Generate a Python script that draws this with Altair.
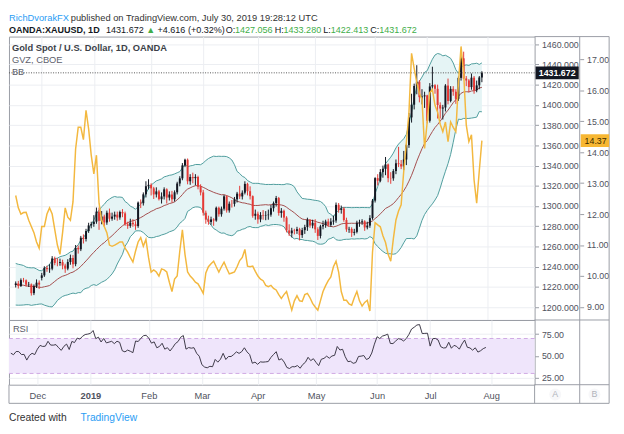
import altair as alt
import pandas as pd
import numpy as np

# ---------------- data ----------------
# closes before the visible window, only used to seed the Bollinger Bands / RSI
warm_close = [1207.0, 1199.0, 1200.5, 1201.5, 1194.5, 1183.5, 1192.0, 1189.0, 1204.5, 1199.0,
              1199.5, 1203.0, 1188.0, 1189.5, 1194.0, 1225.0, 1217.5, 1230.5, 1225.5, 1222.0,
              1227.0, 1227.0, 1222.5, 1231.0, 1231.0, 1232.0, 1235.0, 1228.0, 1223.0, 1215.0,
              1233.0, 1233.0, 1233.0, 1227.0, 1227.0, 1224.0, 1209.0, 1201.5, 1202.0, 1210.0,
              1214.5, 1222.0]

opens = [1222.0, 1223.5, 1221.0, 1226.8, 1226.6, 1222.3, 1222.6, 1213.9, 1220.8, 1224.3,
         1229.0, 1231.5, 1238.9, 1237.6, 1238.1, 1248.2, 1243.7, 1243.6, 1244.6, 1241.2,
         1238.2, 1244.7, 1248.7, 1242.6, 1258.7, 1257.3, 1268.7, 1267.5, 1275.3, 1280.9,
         1282.3, 1284.6, 1294.5, 1285.4, 1289.7, 1283.8, 1293.4, 1287.5, 1289.6, 1291.5,
         1288.7, 1294.1, 1292.8, 1282.0, 1280.4, 1283.5, 1282.0, 1280.2, 1303.4, 1302.8,
         1311.6, 1319.6, 1321.0, 1317.5, 1311.5, 1314.5, 1306.8, 1309.5, 1316.5, 1308.4,
         1311.4, 1306.7, 1313.6, 1322.3, 1327.4, 1340.2, 1345.8, 1324.5, 1328.7, 1327.6,
         1328.8, 1319.1, 1313.5, 1293.4, 1286.6, 1284.3, 1286.8, 1285.7, 1298.3, 1291.9,
         1297.4, 1309.6, 1295.7, 1302.3, 1302.2, 1306.6, 1312.3, 1309.5, 1313.2, 1321.9,
         1314.7, 1309.8, 1290.3, 1292.4, 1286.8, 1291.2, 1290.6, 1291.0, 1291.5, 1297.9,
         1302.9, 1307.9, 1293.1, 1295.3, 1288.6, 1275.9, 1273.1, 1275.8, 1275.4, 1277.1,
         1271.3, 1276.2, 1279.2, 1286.5, 1280.7, 1283.5, 1277.0, 1270.5, 1279.9, 1281.2,
         1284.7, 1281.4, 1284.7, 1285.7, 1301.2, 1296.2, 1297.6, 1286.2, 1276.9, 1277.4,
         1273.5, 1274.5, 1283.5, 1284.0, 1284.9, 1278.9, 1280.7, 1288.1, 1305.4, 1327.6,
         1325.0, 1333.6, 1336.8, 1341.1, 1327.6, 1327.4, 1334.6, 1342.3, 1341.4, 1339.1,
         1346.0, 1360.2, 1387.6, 1400.2, 1418.7, 1422.9, 1407.6, 1408.4, 1409.4, 1384.3,
         1418.2, 1419.5, 1415.9, 1399.8, 1396.4, 1397.4, 1419.1, 1403.9, 1415.8, 1413.0,
         1406.0, 1426.7, 1446.0, 1426.1, 1424.1, 1417.6, 1426.9, 1414.4, 1419.3, 1427.056]

highs = [1225.5, 1226.0, 1228.5, 1229.0, 1227.5, 1225.0, 1223.5, 1222.5, 1227.5, 1226.5,
         1234.0, 1240.5, 1241.0, 1242.5, 1250.5, 1250.0, 1248.5, 1248.0, 1247.0, 1243.0,
         1247.5, 1252.0, 1251.5, 1261.5, 1261.0, 1270.5, 1272.0, 1277.5, 1283.5, 1284.5,
         1291.0, 1298.5, 1298.5, 1295.0, 1291.5, 1295.5, 1297.5, 1293.5, 1294.5, 1294.5,
         1295.5, 1297.0, 1294.5, 1284.5, 1287.5, 1287.0, 1285.0, 1304.5, 1306.5, 1313.5,
         1324.5, 1326.5, 1322.5, 1319.0, 1318.5, 1316.0, 1313.5, 1318.5, 1317.5, 1314.5,
         1315.0, 1315.5, 1324.0, 1329.5, 1342.5, 1346.8, 1347.0, 1331.5, 1333.0, 1331.5,
         1330.0, 1321.5, 1316.0, 1295.5, 1290.5, 1289.5, 1288.0, 1299.5, 1299.5, 1299.5,
         1311.0, 1310.5, 1304.5, 1306.0, 1309.0, 1314.0, 1320.0, 1315.5, 1324.5, 1323.0,
         1319.5, 1310.5, 1296.5, 1294.5, 1294.0, 1296.0, 1295.0, 1296.5, 1301.0, 1304.5,
         1310.0, 1309.0, 1298.0, 1296.5, 1290.0, 1282.0, 1278.5, 1277.5, 1279.5, 1278.5,
         1278.5, 1281.5, 1288.5, 1287.0, 1286.5, 1287.0, 1279.0, 1281.5, 1285.5, 1286.5,
         1287.5, 1288.0, 1290.5, 1303.5, 1303.0, 1300.5, 1299.0, 1288.5, 1279.5, 1279.0,
         1277.5, 1285.5, 1286.5, 1287.0, 1286.0, 1284.5, 1291.0, 1307.0, 1328.5, 1331.5,
         1336.5, 1340.0, 1348.5, 1342.0, 1333.5, 1336.5, 1346.0, 1358.5, 1345.5, 1354.5,
         1361.5, 1392.0, 1411.0, 1421.0, 1439.2, 1424.5, 1415.5, 1413.0, 1410.0, 1421.5,
         1437.7, 1420.5, 1420.0, 1402.5, 1400.0, 1420.5, 1426.0, 1418.5, 1418.5, 1415.5,
         1428.0, 1448.0, 1452.6, 1428.5, 1425.5, 1431.0, 1428.5, 1424.0, 1428.5, 1433.28]

lows = [1219.5, 1218.5, 1220.0, 1224.5, 1220.5, 1220.0, 1211.5, 1212.0, 1219.0, 1218.0,
        1226.5, 1230.0, 1235.0, 1234.0, 1236.5, 1241.5, 1240.5, 1241.0, 1237.5, 1234.0,
        1236.5, 1242.0, 1238.5, 1240.5, 1253.0, 1255.5, 1263.0, 1265.0, 1273.5, 1278.0,
        1279.5, 1282.5, 1276.5, 1282.0, 1279.5, 1281.5, 1284.5, 1285.5, 1286.5, 1285.5,
        1286.5, 1289.0, 1280.5, 1277.5, 1278.5, 1279.5, 1276.5, 1278.5, 1298.0, 1300.5,
        1308.5, 1316.5, 1310.5, 1307.0, 1308.5, 1305.5, 1302.5, 1306.5, 1302.5, 1305.5,
        1303.5, 1304.5, 1311.5, 1319.5, 1325.5, 1338.5, 1321.5, 1321.0, 1322.5, 1320.5,
        1316.5, 1310.5, 1290.5, 1282.5, 1281.5, 1281.5, 1280.5, 1284.5, 1289.5, 1289.5,
        1295.5, 1293.5, 1293.5, 1298.5, 1299.5, 1303.5, 1307.0, 1306.5, 1311.5, 1310.5,
        1306.5, 1288.5, 1286.5, 1282.5, 1284.0, 1286.5, 1286.0, 1286.5, 1289.5, 1294.5,
        1299.5, 1290.5, 1288.5, 1284.5, 1274.0, 1270.5, 1269.0, 1272.0, 1272.5, 1266.0,
        1268.5, 1272.5, 1275.5, 1278.5, 1278.0, 1273.5, 1266.5, 1268.0, 1277.0, 1278.5,
        1279.5, 1279.5, 1281.5, 1283.5, 1293.5, 1292.5, 1284.5, 1274.5, 1273.5, 1269.5,
        1271.0, 1273.0, 1279.5, 1281.5, 1275.5, 1277.0, 1278.5, 1286.5, 1303.5, 1320.5,
        1323.5, 1328.0, 1330.5, 1323.5, 1322.0, 1325.0, 1331.5, 1338.5, 1336.5, 1335.5,
        1340.5, 1357.5, 1382.5, 1395.5, 1410.5, 1402.5, 1400.5, 1397.0, 1381.8, 1382.5,
        1415.0, 1411.0, 1386.5, 1386.5, 1385.5, 1393.5, 1400.5, 1402.5, 1409.0, 1401.0,
        1404.0, 1424.0, 1425.5, 1418.5, 1412.5, 1415.0, 1411.0, 1412.5, 1415.5, 1422.413]

closes = [1223.5, 1221.0, 1226.8, 1226.6, 1222.3, 1222.6, 1213.9, 1220.8, 1224.3, 1222.4,
          1231.5, 1238.9, 1237.6, 1238.1, 1248.2, 1243.7, 1243.6, 1244.6, 1241.2, 1238.2,
          1244.7, 1248.7, 1242.6, 1258.7, 1257.3, 1268.7, 1267.5, 1275.3, 1280.9, 1282.3,
          1284.6, 1294.5, 1285.4, 1289.7, 1283.8, 1293.4, 1287.5, 1289.6, 1291.5, 1288.7,
          1294.1, 1292.8, 1282.0, 1280.4, 1283.5, 1282.0, 1280.2, 1303.4, 1302.8, 1311.6,
          1319.6, 1321.0, 1317.5, 1311.5, 1314.5, 1306.8, 1309.5, 1316.5, 1308.4, 1311.4,
          1306.7, 1313.6, 1322.3, 1327.4, 1340.2, 1345.8, 1324.5, 1328.7, 1327.6, 1328.8,
          1319.1, 1313.5, 1293.4, 1286.6, 1284.3, 1286.8, 1285.7, 1298.3, 1291.9, 1297.4,
          1309.6, 1295.7, 1302.3, 1302.2, 1306.6, 1312.3, 1309.5, 1313.2, 1321.9, 1314.7,
          1309.8, 1290.3, 1292.4, 1286.8, 1291.2, 1290.6, 1291.0, 1291.5, 1297.9, 1302.9,
          1307.9, 1293.1, 1295.3, 1288.6, 1275.9, 1273.1, 1275.8, 1275.4, 1277.1, 1271.3,
          1276.2, 1279.2, 1286.5, 1280.7, 1283.5, 1277.0, 1270.5, 1279.9, 1281.2, 1284.7,
          1281.4, 1284.7, 1285.7, 1301.2, 1296.2, 1297.6, 1286.2, 1276.9, 1277.4, 1273.5,
          1274.5, 1283.5, 1284.0, 1284.9, 1278.9, 1280.7, 1288.1, 1305.4, 1327.6, 1325.0,
          1333.6, 1336.8, 1341.1, 1327.6, 1327.4, 1334.6, 1342.3, 1341.4, 1339.1, 1346.0,
          1360.2, 1387.6, 1400.2, 1418.7, 1422.9, 1407.6, 1408.4, 1409.4, 1384.3, 1418.2,
          1419.5, 1415.9, 1399.8, 1396.4, 1397.4, 1419.1, 1403.9, 1415.8, 1413.0, 1406.0,
          1426.7, 1446.0, 1426.1, 1424.1, 1417.6, 1426.9, 1414.4, 1419.3, 1427.1, 1431.672]

gvz = [12.6, 12.2, 12.0, 12.05, 12.06, 11.8, 11.6, 11.4, 11.1, 10.9,
       11.6, 11.6, 12.0, 12.2, 12.0, 11.5, 11.0, 10.7, 11.4, 12.2,
       11.9, 11.8, 12.4, 14.1, 14.8, 14.8, 14.4, 15.35, 14.75, 13.9,
       13.3, 13.9, 12.35, 11.8, 11.6, 11.4, 11.0, 10.96, 11.0, 11.05,
       11.1, 11.1, 10.9, 10.77, 10.6, 10.45, 10.8, 11.1, 11.24, 10.96,
       11.18, 10.6, 10.13, 10.2, 10.13, 10.0,
       10.23, 10.2, 10.13, 9.8, 9.5, 9.9, 10.0, 10.8, 11.49, 10.7,
       10.13, 10.0, 9.91, 9.8, 9.75, 9.6, 9.44, 10.1, 10.3, 10.4,
       10.48, 10.3, 10.13, 10.3, 10.45, 10.25, 10.07, 10.1, 10.13, 10.3,
       10.5, 10.6, 10.86, 10.32, 10.3, 10.32, 10.15, 10.0, 9.9, 9.85,
       9.7, 9.66, 9.7, 9.6, 9.55, 9.4, 9.28, 9.4, 9.5, 9.2,
       8.9, 9.2, 9.37, 9.2, 9.18, 9.4, 9.44, 9.3, 9.12, 9.0,
       8.9, 9.2, 9.5, 9.69, 9.85, 9.97, 10.3, 10.48, 10.13, 9.5,
       9.22, 9.22, 9.1, 9.06, 9.3, 9.5, 9.2, 9.03, 9.15, 9.22,
       8.87, 10.77, 11.72, 11.65, 11.59, 11.3, 11.08, 10.7, 10.48, 11.2,
       11.81, 12.1, 12.3,
       13.39, 14.3, 15.29, 17.19, 16.7, 16.24, 15.9, 15.7, 14.12, 14.97,
       15.92, 16.02, 15.51, 15.29, 14.9, 14.66, 14.97, 14.34, 14.97, 14.8,
       14.66, 16.24, 17.41, 16.56, 14.88, 14.34, 14.56, 13.1, 12.35, 13.4,
       14.37]

holidays = ["2018-12-25", "2019-01-01"]
month_labels = ["Dec", "2019", "Feb", "Mar", "Apr", "May", "Jun", "Jul", "Aug"]
price_ticks = [1200, 1220, 1240, 1260, 1280, 1300, 1320, 1340, 1360, 1380, 1400, 1420, 1440, 1460]
gvz_ticks = [9, 10, 11, 12, 13, 14, 15, 16, 17]
rsi_ticks = [25, 50, 75]
rsi_band = [30, 70]

last_price = closes[-1]
title1_a = "RichDvorakFX"
title1_b = "published on TradingView.com, July 30, 2019 19:28:12 UTC"
title2 = [("OANDA:XAUUSD, 1D", "#131722", "bold"), ("1431.672", "#131722", "normal"),
          ("\u25B2", "#3fae49", "normal"), ("+4.616 (+0.32%)", "#131722", "normal"),
          ("O:", "#131722", "normal"), ("1427.056", "#3fae49", "normal"),
          ("H:", "#131722", "normal"), ("1433.280", "#3fae49", "normal"),
          ("L:", "#131722", "normal"), ("1422.413", "#3fae49", "normal"),
          ("C:", "#131722", "normal"), ("1431.672", "#3fae49", "normal")]
title2_x = [0, 99.0, 140.0, 151.5, 221.0, 230.5, 271.0, 280.0, 320.5, 328.0, 368.5, 377.5]

# ---------------- derived indicators ----------------
assert len(opens) == len(highs) == len(lows) == len(closes) == len(gvz) == 180
n = len(closes)
dates = pd.bdate_range("2018-11-19", "2019-08-02")
dates = dates[~dates.isin(pd.to_datetime(holidays))]
month_idx = [i for i in range(1, len(dates)) if dates[i].month != dates[i - 1].month]

allc = pd.Series(warm_close + closes, dtype=float)
basis = allc.rolling(20).mean()
dev = allc.rolling(20).std(ddof=0)
upper = basis + 2 * dev
lower = basis - 2 * dev
delta = allc.diff().fillna(0).values
gain = np.clip(delta, 0, None)
loss = np.clip(-delta, 0, None)


def rma(v, k):
    out = np.full(len(v), np.nan)
    out[k] = np.mean(v[1:k + 1])
    for t in range(k + 1, len(v)):
        out[t] = (out[t - 1] * (k - 1) + v[t]) / k
    return out


ag = rma(gain, 14)
al = rma(loss, 14)
rsi = 100 - 100 / (1 + ag / al)
w = len(warm_close)

df = pd.DataFrame({"j": np.arange(n), "o": opens, "h": highs, "l": lows, "c": closes,
                   "g": gvz, "up": upper.values[w:], "lo": lower.values[w:],
                   "mid": basis.values[w:], "rsi": rsi[w:]})
df["col"] = np.where(df["c"] >= df["o"], "#131722", "#e53935")

# ---------------- styling ----------------
FONT = "Liberation Sans, Arial, sans-serif"
FRAME = "#9a9da5"
GRID = "#eceef2"
LAB = "#50535e"
W, H1, H2 = 536, 289, 66
XDOM = [-0.7, 197.36]

one = pd.DataFrame({"v": [last_price]})
dummy = pd.DataFrame({"a": [0]})

xenc = alt.X("j:Q", scale=alt.Scale(domain=XDOM, nice=False, zero=False),
             axis=alt.Axis(values=month_idx, grid=True, gridColor=GRID, labels=False,
                           ticks=False, domain=False, title=None))
yscale = alt.Scale(domain=[1187.4, 1467.5], nice=False, zero=False)
yaxis = alt.Axis(orient="right", values=price_ticks, format=".3f", grid=True, gridColor=GRID,
                 tickSize=4, tickColor=FRAME, domain=False, labelPadding=3, labelColor=LAB,
                 labelFont=FONT, labelFontSize=9, title=None)


def Y(field):
    return alt.Y(field, scale=yscale, axis=yaxis)


base = alt.Chart(df)
bb_fill = base.mark_area(color="#e5f4f5").encode(x=xenc, y=Y("up:Q"), y2="lo:Q")
bb_up = base.mark_line(color="#4e9c9c", strokeWidth=1).encode(x=xenc, y=Y("up:Q"))
bb_lo = base.mark_line(color="#4e9c9c", strokeWidth=1).encode(x=xenc, y=Y("lo:Q"))
bb_mid = base.mark_line(color="#a34d4d", strokeWidth=1).encode(x=xenc, y=Y("mid:Q"))
wicks = base.mark_rule(strokeWidth=1).encode(x=xenc, y=Y("l:Q"), y2="h:Q",
                                             color=alt.Color("col:N", scale=None))
bodies = base.mark_bar(size=2).encode(x=xenc, y=Y("o:Q"), y2="c:Q",
                                      color=alt.Color("col:N", scale=None))
pline = alt.Chart(one).mark_rule(color="#555", strokeDash=[1, 1.5], strokeWidth=1).encode(y=Y("v:Q"))
pbox = alt.Chart(one).mark_rule(color="#131722", strokeWidth=13).encode(
    x=alt.value(537), x2=alt.value(581), y=Y("v:Q"))
ptext = alt.Chart(one).mark_text(align="center", baseline="middle", color="white", font=FONT,
                                 fontSize=9, fontWeight="bold").encode(
    x=alt.value(559), y=Y("v:Q"), text=alt.Text("v:Q", format=".3f"))


def hrule(y, x1, x2):
    return alt.Chart(dummy).mark_rule(color=FRAME, strokeWidth=1).encode(
        x=alt.value(x1), x2=alt.value(x2), y=alt.value(y))


def vrule(x, y1, y2):
    return alt.Chart(dummy).mark_rule(color=FRAME, strokeWidth=1).encode(
        x=alt.value(x), y=alt.value(y1), y2=alt.value(y2))


frame = [hrule(0, W, 612), hrule(H1, W, 612), hrule(H1 + H2, W, 612), hrule(374, 0, 612),
         vrule(582, 0, 374), vrule(612, 0, 374), vrule(W, H1 + H2, 374), vrule(0, H1 + H2, 374)]


def txt(s, x, y, color="#131722", size=9, weight="normal", align="left"):
    return alt.Chart(dummy).mark_text(align=align, baseline="middle", font=FONT, fontSize=size,
                                      fontWeight=weight, color=color).encode(
        x=alt.value(x), y=alt.value(y), text=alt.value(s))


texts = [txt(title1_a, 0, -19, color="#2a9df4", size=9.5), txt(title1_b, 63, -19, color="#333", size=9.5)]
for (s, col, wt), xx in zip(title2, title2_x):
    texts.append(txt(s, xx, -7, color=col, weight=wt, size=9.2))
texts += [txt("Gold Spot / U.S. Dollar, 1D, OANDA", 3, 12, color="#3c3f48", size=9.5, weight=600),
          txt("GVZ, CBOE", 3, 24, color="#5d606b", size=9.5),
          txt("BB", 3, 36, color="#5d606b", size=9.5),
          txt("Created with", 0, 389, color="#333", size=10.5),
          txt("TradingView", 73, 389, color="#2a9df4", size=10.5)]
ab = alt.Chart(pd.DataFrame({"t": ["A", "B"], "px": [557, 597]}))
ab_c = ab.mark_point(shape="circle", size=150, filled=True, color="#f4f4f6").encode(
    x=alt.X("px:Q", scale=None), y=alt.value(365))
ab_t = ab.mark_text(font=FONT, fontSize=9, color="#b0b3bb").encode(
    x=alt.X("px:Q", scale=None), y=alt.value(365), text="t:N")

price_layer = alt.layer(bb_fill, bb_up, bb_lo, bb_mid, wicks, bodies, pline, pbox, ptext,
                        *frame, *texts, ab_c, ab_t)

gscale = alt.Scale(domain=[8.582, 17.728], nice=False, zero=False)
gaxis = alt.Axis(orient="right", offset=46, values=gvz_ticks, format=".2f", grid=False,
                 tickSize=4, tickColor=FRAME, domain=False, labelPadding=3, labelColor=LAB,
                 labelFont=FONT, labelFontSize=9, title=None)
gdf = pd.DataFrame({"g": [gvz[-1]]})
gline = base.mark_line(color="#f3b83f", strokeWidth=1.5).encode(
    x=xenc, y=alt.Y("g:Q", scale=gscale, axis=gaxis))
gbox = alt.Chart(gdf).mark_rule(color="#f7b733", strokeWidth=13).encode(
    x=alt.value(583), x2=alt.value(612), y=alt.Y("g:Q", scale=gscale, axis=gaxis))
gtext = alt.Chart(gdf).mark_text(align="left", baseline="middle", color="#3a2a00", font=FONT,
                                 fontSize=9).encode(
    x=alt.value(587), y=alt.Y("g:Q", scale=gscale, axis=gaxis), text=alt.Text("g:Q", format=".2f"))
gvz_layer = alt.layer(gline, gbox, gtext)

main = alt.layer(price_layer, gvz_layer).resolve_scale(y="independent").properties(width=W, height=H1)

# ---------------- RSI pane ----------------
label_expr = " : ".join(f"datum.value == {i} ? '{m}'" for i, m in zip(month_idx, month_labels)) + " : ''"
xr = alt.X("j:Q", scale=alt.Scale(domain=XDOM, nice=False, zero=False),
           axis=alt.Axis(values=month_idx, labelExpr=label_expr, grid=True, gridColor=GRID,
                         ticks=False, domain=False, title=None, labelPadding=6,
                         labelFont=FONT, labelFontSize=9.5, labelColor=LAB,
                         labelFontWeight={"condition": {"test": "datum.value == %d" % month_idx[1],
                                                        "value": "bold"}, "value": "normal"},
                         labelFlush=False, labelOverlap=False, labelBound=False))
rscale = alt.Scale(domain=[17.1, 91.2], nice=False, zero=False)
raxis = alt.Axis(orient="right", values=rsi_ticks, format=".2f", grid=True, gridColor=GRID,
                 tickSize=4, tickColor=FRAME, domain=False, labelPadding=3, labelColor=LAB,
                 labelFont=FONT, labelFontSize=9, title=None)
rband = alt.Chart(pd.DataFrame({"a": [rsi_band[0]], "b": [rsi_band[1]]})).mark_rect(
    color="#efe5fb").encode(y=alt.Y("a:Q", scale=rscale, axis=raxis), y2="b:Q")
rdash = alt.Chart(pd.DataFrame({"v": rsi_band})).mark_rule(
    color="#cfa9e3", strokeDash=[4, 3], strokeWidth=1).encode(y=alt.Y("v:Q", scale=rscale, axis=raxis))
rline = base.mark_line(color="#3c3846", strokeWidth=1).encode(
    x=xr, y=alt.Y("rsi:Q", scale=rscale, axis=raxis))
rlabel = txt("RSI", 4, 9, color="#5d606b", size=9.5)
rsi_chart = alt.layer(rband, rdash, rline, rlabel).properties(width=W, height=H2)

chart = alt.vconcat(main, rsi_chart, spacing=0, bounds="flush").properties(
    padding=0, background="white"
).configure_view(stroke=FRAME, strokeWidth=1)

chart.save("out.html", embed_options={"renderer": "svg", "actions": False})
